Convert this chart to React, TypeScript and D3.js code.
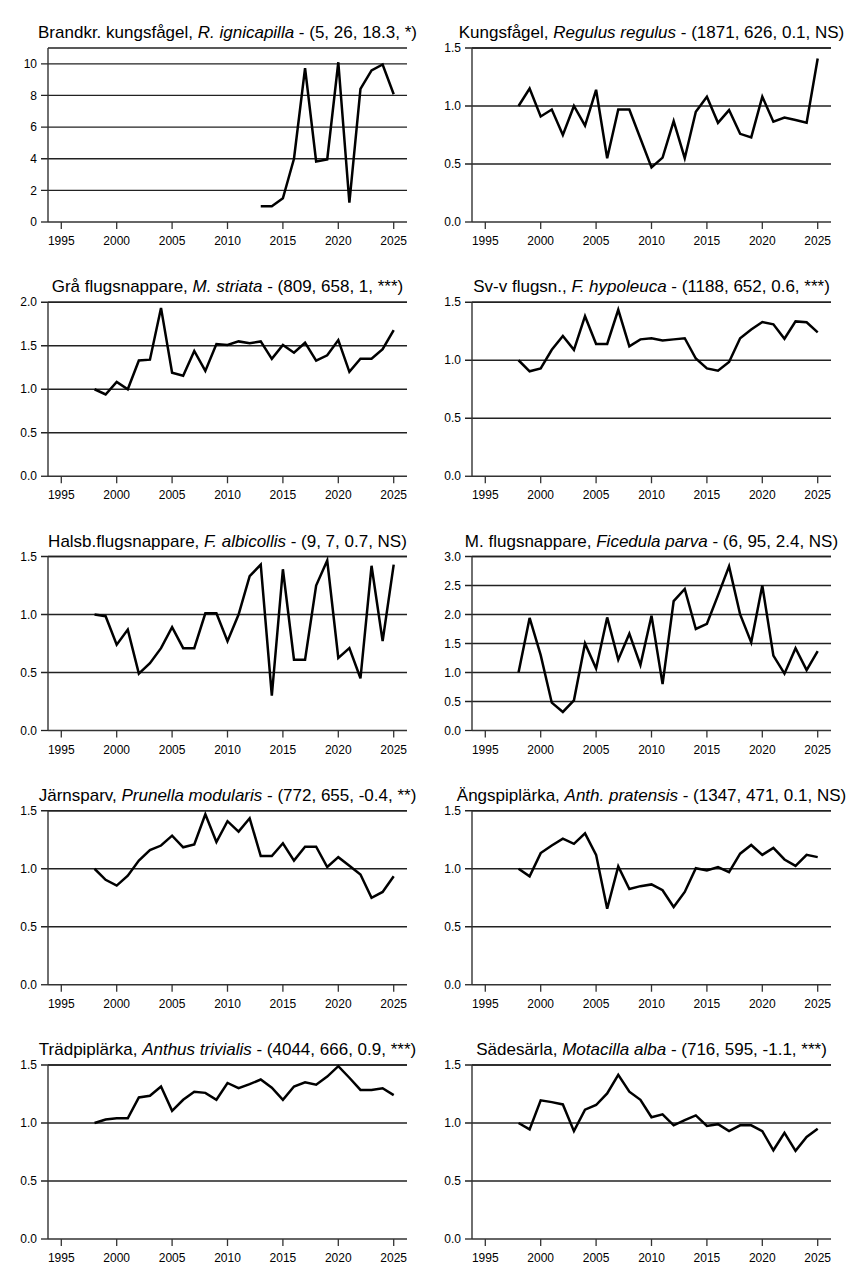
import React from 'react';
import * as d3 from 'd3';

// ---- data ----
const yearsFull = [1998, 1999, 2000, 2001, 2002, 2003, 2004, 2005, 2006, 2007, 2008, 2009, 2010, 2011, 2012, 2013, 2014, 2015, 2016, 2017, 2018, 2019, 2020, 2021, 2022, 2023, 2024, 2025];
const yearsBrandkr = [2013, 2014, 2015, 2016, 2017, 2018, 2019, 2020, 2021, 2022, 2023, 2024, 2025];
const xTicks = [1995, 2000, 2005, 2010, 2015, 2020, 2025];

const brandkr = [1.0, 1.0, 1.5, 4.0, 9.73, 3.83, 3.96, 10.1, 1.22, 8.42, 9.58, 9.96, 8.08];
const kungsfagel = [1.0, 1.15, 0.91, 0.97, 0.75, 1.0, 0.83, 1.14, 0.55, 0.97, 0.97, 0.72, 0.47, 0.555, 0.87, 0.55, 0.95, 1.08, 0.855, 0.965, 0.76, 0.73, 1.08, 0.865, 0.9, 0.88, 0.855, 1.41];
const graFlug = [1.0, 0.94, 1.085, 1.0, 1.33, 1.34, 1.935, 1.19, 1.155, 1.44, 1.21, 1.52, 1.51, 1.55, 1.53, 1.55, 1.35, 1.51, 1.42, 1.535, 1.33, 1.39, 1.565, 1.2, 1.35, 1.35, 1.46, 1.68];
const svvFlug = [1.0, 0.905, 0.93, 1.09, 1.21, 1.09, 1.38, 1.14, 1.14, 1.435, 1.12, 1.18, 1.19, 1.17, 1.18, 1.19, 1.015, 0.93, 0.91, 0.985, 1.19, 1.265, 1.33, 1.31, 1.185, 1.335, 1.327, 1.24];
const halsbFlug = [1.0, 0.985, 0.74, 0.87, 0.49, 0.58, 0.71, 0.89, 0.71, 0.71, 1.01, 1.01, 0.77, 1.0, 1.33, 1.43, 0.3, 1.39, 0.61, 0.61, 1.25, 1.465, 0.626, 0.71, 0.45, 1.42, 0.77, 1.43];
const mFlug = [1.0, 1.94, 1.3, 0.48, 0.32, 0.52, 1.5, 1.07, 1.95, 1.22, 1.67, 1.13, 1.98, 0.8, 2.23, 2.44, 1.75, 1.84, 2.33, 2.83, 2.0, 1.52, 2.5, 1.29, 0.98, 1.42, 1.04, 1.37];
const jarnsparv = [1.0, 0.905, 0.855, 0.94, 1.07, 1.16, 1.2, 1.285, 1.185, 1.21, 1.47, 1.23, 1.41, 1.32, 1.435, 1.11, 1.11, 1.22, 1.07, 1.19, 1.19, 1.015, 1.1, 1.025, 0.95, 0.75, 0.8, 0.935];
const angspip = [1.0, 0.935, 1.135, 1.2, 1.26, 1.215, 1.305, 1.12, 0.655, 1.02, 0.825, 0.85, 0.865, 0.815, 0.67, 0.8, 1.005, 0.985, 1.015, 0.97, 1.13, 1.205, 1.12, 1.18, 1.08, 1.025, 1.12, 1.1];
const tradpip = [1.0, 1.03, 1.04, 1.04, 1.22, 1.235, 1.315, 1.105, 1.2, 1.27, 1.26, 1.2, 1.345, 1.3, 1.335, 1.375, 1.305, 1.2, 1.315, 1.35, 1.33, 1.4, 1.49, 1.39, 1.285, 1.285, 1.3, 1.24];
const sadesarla = [1.0, 0.945, 1.195, 1.18, 1.16, 0.93, 1.115, 1.155, 1.255, 1.415, 1.27, 1.2, 1.05, 1.075, 0.98, 1.025, 1.065, 0.975, 0.99, 0.93, 0.98, 0.98, 0.93, 0.765, 0.915, 0.76, 0.88, 0.95];

const commonNames = ['Brandkr. kungsfågel, ', 'Kungsfågel, ', 'Grå flugsnappare, ', 'Sv-v flugsn., ', 'Halsb.flugsnappare, ', 'M. flugsnappare, ', 'Järnsparv, ', 'Ängspiplärka, ', 'Trädpiplärka, ', 'Sädesärla, '];
const sciNames = ['R. ignicapilla', 'Regulus regulus', 'M. striata', 'F. hypoleuca', 'F. albicollis', 'Ficedula parva', 'Prunella modularis', 'Anth. pratensis', 'Anthus trivialis', 'Motacilla alba'];
const stats = [' - (5, 26, 18.3, *)', ' - (1871, 626, 0.1, NS)', ' - (809, 658, 1, ***)', ' - (1188, 652, 0.6, ***)', ' - (9, 7, 0.7, NS)', ' - (6, 95, 2.4, NS)', ' - (772, 655, -0.4, **)', ' - (1347, 471, 0.1, NS)', ' - (4044, 666, 0.9, ***)', ' - (716, 595, -1.1, ***)'];

const yTicks1 = [0, 2, 4, 6, 8, 10];
const yTicks15 = [0, 0.5, 1.0, 1.5];
const yTicks20 = [0, 0.5, 1.0, 1.5, 2.0];
const yTicks30 = [0, 0.5, 1.0, 1.5, 2.0, 2.5, 3.0];
const yMaxes = [11, 1.5, 2.0, 1.5, 1.5, 3.0, 1.5, 1.5, 1.5, 1.5];

const seriesValues = [brandkr, kungsfagel, graFlug, svvFlug, halsbFlug, mFlug, jarnsparv, angspip, tradpip, sadesarla];
const seriesYears = [yearsBrandkr, yearsFull, yearsFull, yearsFull, yearsFull, yearsFull, yearsFull, yearsFull, yearsFull, yearsFull];
const seriesTicks = [yTicks1, yTicks15, yTicks20, yTicks15, yTicks15, yTicks30, yTicks15, yTicks15, yTicks15, yTicks15];

// ---- layout ----
const W = 848;
const H = 1272;
const colW = 424;
const rowH = 254.25;
const plotL = 48;
const plotR = 407;
const plotT = 48;
const plotB = 222;
const FONT = '"Liberation Sans", Arial, sans-serif';

function Panel({ idx }: { idx: number }) {
  const col = idx % 2;
  const row = Math.floor(idx / 2);
  const x = d3.scaleLinear().domain([1993.8, 2026.2]).range([plotL, plotR]);
  const y = d3.scaleLinear().domain([0, yMaxes[idx]]).range([plotB, plotT]);
  const ticks = seriesTicks[idx];
  const fmt = idx === 0 ? d3.format('d') : d3.format('.1f');
  const yrs = seriesYears[idx];
  const vals = seriesValues[idx];
  const line = d3
    .line<number>()
    .x((_, i) => x(yrs[i]))
    .y((d) => y(d));
  const cx = (plotL + plotR) / 2;
  return (
    <g transform={`translate(${col * colW},${row * rowH})`}>
      <text x={cx} y={38} textAnchor="middle" fontFamily={FONT} fontSize={17} fill="#000">
        {commonNames[idx]}
        <tspan fontStyle="italic">{sciNames[idx]}</tspan>
        {stats[idx]}
      </text>
      {/* gridlines + y ticks */}
      {ticks.map((t) => (
        <g key={t}>
          {t !== 0 && (
            <line x1={plotL - 7} x2={plotR} y1={y(t)} y2={y(t)} stroke="#222" strokeWidth={1.3} />
          )}
          {t === 0 && <line x1={plotL - 7} x2={plotL} y1={y(t)} y2={y(t)} stroke="#222" strokeWidth={1.3} />}
          <text x={plotL - 11} y={y(t)} dy="0.35em" textAnchor="end" fontFamily={FONT} fontSize={12} fill="#000">
            {fmt(t)}
          </text>
        </g>
      ))}
      {/* top frame line */}
      <line x1={plotL} x2={plotR} y1={plotT} y2={plotT} stroke="#222" strokeWidth={1.3} />
      {/* axes */}
      <line x1={plotL} x2={plotL} y1={plotT} y2={plotB} stroke="#333" strokeWidth={1.4} />
      <line x1={plotL} x2={plotR} y1={plotB} y2={plotB} stroke="#333" strokeWidth={1.4} />
      {xTicks.map((t) => (
        <g key={t}>
          <line x1={x(t)} x2={x(t)} y1={plotB} y2={plotB + 7} stroke="#333" strokeWidth={1.3} />
          <text x={x(t)} y={plotB + 23} textAnchor="middle" fontFamily={FONT} fontSize={12} fill="#000">
            {t}
          </text>
        </g>
      ))}
      <path d={line(vals) || ''} fill="none" stroke="#000" strokeWidth={2.5} strokeLinejoin="miter" strokeMiterlimit={4} />
    </g>
  );
}

export default function App() {
  const panels = seriesValues.map((_, i) => i);
  return (
    <svg
      width={W}
      height={H}
      viewBox={`0 0 ${W} ${H}`}
      style={{ position: 'absolute', left: 0, top: 0, background: '#fff' }}
    >
      <rect width={W} height={H} fill="#fff" />
      {panels.map((i) => (
        <Panel key={i} idx={i} />
      ))}
    </svg>
  );
}
